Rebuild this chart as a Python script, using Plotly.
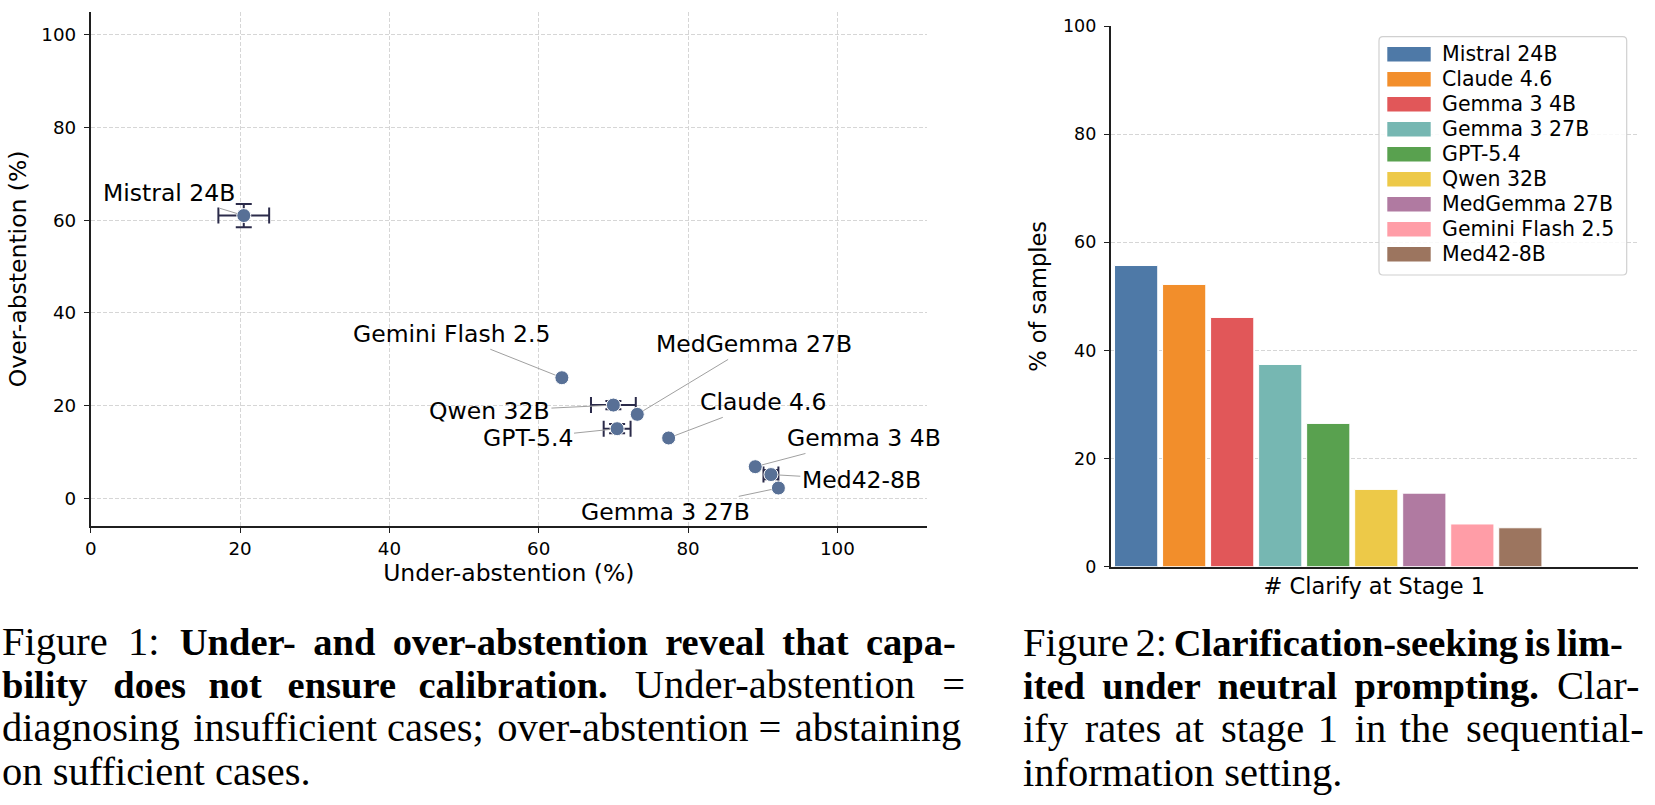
import plotly.graph_objects as go

W, H = 1655, 805

# ---------------- Figure 1 data ----------------
scatter_models = ["Mistral 24B", "Gemini Flash 2.5", "Qwen 32B", "MedGemma 27B", "GPT-5.4",
                  "Claude 4.6", "Gemma 3 4B", "Med42-8B", "Gemma 3 27B"]
under_abstention = [20.5, 63.1, 70.0, 73.2, 70.5, 77.4, 89.0, 91.1, 92.1]
over_abstention = [61.0, 26.0, 20.1, 18.1, 15.0, 13.0, 6.8, 5.1, 2.2]
under_err = [3.4, 0, 3.0, 0, 1.8, 0, 0, 1.0, 0]
over_err = [2.5, 0, 0.9, 0, 1.0, 0, 0, 1.0, 0]

# ---------------- Figure 2 data ----------------
bar_models = ["Mistral 24B", "Claude 4.6", "Gemma 3 4B", "Gemma 3 27B", "GPT-5.4",
              "Qwen 32B", "MedGemma 27B", "Gemini Flash 2.5", "Med42-8B"]
clarify_pct = [55.7, 52.2, 46.1, 37.4, 26.5, 14.3, 13.6, 7.9, 7.2]

tick_vals = [0, 20, 40, 60, 80, 100]

# ---------------- styling / layout (not data) ----------------
bar_colors = ["#4e79a7", "#f28e2b", "#e15759", "#76b7b2", "#59a14f",
              "#edc948", "#b07aa1", "#ff9da7", "#9c755f"]
label_pos = {  # annotation text centers in data coords
    "Mistral 24B": (10.5, 65.9),
    "Gemini Flash 2.5": (48.3, 35.5),
    "Qwen 32B": (53.4, 18.8),
    "MedGemma 27B": (88.8, 33.3),
    "GPT-5.4": (58.5, 13.0),
    "Claude 4.6": (90.1, 20.8),
    "Gemma 3 4B": (103.6, 13.0),
    "Med42-8B": (103.2, 4.0),
    "Gemma 3 27B": (76.95, -2.95),
}

FS_REG = 40.5
FS_BOLD = 38.5
SP = " "            # normal space
THIN = "\u2009"     # thin space
FOUR = "\u2005"     # four-per-em space
THREE = "\u2004"    # three-per-em space
SIX = "\u2006"      # six-per-em space
HAIR = "\u200a"     # hair space


def bold(s):
    return f'<span style="font-size:{FS_BOLD}px"><b>{s}</b></span>'


G2 = SP + THREE + HAIR
G3 = SP + THREE
caption1 = [
    "Figure" + SP + FOUR + "1:" + SP + FOUR
    + bold((SP + THIN).join(["Under-", "and", "over-abstention", "reveal", "that", "capa-"])),
    bold("bility" + G2 + "does" + G3 + "not" + G2 + "ensure" + G3 + "calibration.")
    + G2 + "Under-abstention" + G2 + "=",
    "diagnosing" + SP + HAIR + "insufficient" + SP + "cases;" + SP + HAIR + "over-abstention"
    + SP + "=" + SP + HAIR + "abstaining",
    "on sufficient cases.",
]
caption2 = [
    "Figure" + SIX + "2:" + SIX + bold("Clarification-seeking" + SIX + "is" + SIX + "lim-"),
    bold((SP + THIN).join(["ited", "under", "neutral", "prompting."])) + SP + THIN + "Clar-",
    "ify" + SP + SIX + "rates" + SP + HAIR + "at" + SP + SIX + "stage" + SP + HAIR + "1"
    + SP + SIX + "in" + SP + HAIR + "the" + SP + SIX + "sequential-",
    "information setting.",
]

SANS = "DejaVu Sans"
SERIF = "Liberation Serif"
AXIS_COL = "#1f1f1f"
GRID_COL = "#d6d6d6"
MARK_COL = "#587096"
ERR_COL = "#2b2b4a"


def px(x):
    return x / W


def py(y):
    return 1 - y / H


fig = go.Figure()

# error bars (only for models with non-zero errors)
idx = [i for i in range(len(scatter_models)) if under_err[i] > 0 or over_err[i] > 0]
fig.add_trace(go.Scatter(
    x=[under_abstention[i] for i in idx], y=[over_abstention[i] for i in idx],
    mode="markers", marker=dict(size=12, color=MARK_COL, opacity=0),
    error_x=dict(type="data", array=[under_err[i] for i in idx], color=ERR_COL, thickness=2, width=8),
    error_y=dict(type="data", array=[over_err[i] for i in idx], color=ERR_COL, thickness=2, width=8),
    showlegend=False, hoverinfo="skip", xaxis="x", yaxis="y"))

fig.add_trace(go.Scatter(
    x=under_abstention, y=over_abstention, text=scatter_models, mode="markers",
    marker=dict(size=14, color=MARK_COL, line=dict(color="white", width=1)),
    showlegend=False, xaxis="x", yaxis="y"))

fig.add_trace(go.Bar(
    x=bar_models, y=clarify_pct, width=0.9,
    marker=dict(color=bar_colors, line=dict(color="white", width=1)),
    showlegend=False, xaxis="x2", yaxis="y2"))

annotations = []
for m, ux, oy in zip(scatter_models, under_abstention, over_abstention):
    lx, ly = label_pos[m]
    annotations.append(dict(
        x=ux, y=oy, xref="x", yref="y", ax=lx, ay=ly, axref="x", ayref="y",
        text=m, showarrow=True, arrowhead=0, arrowwidth=1, arrowcolor="#a0a0a0",
        standoff=7, font=dict(family=SANS, size=23.5, color="black")))

# manual legend for Figure 2
leg_l, leg_r, leg_t, leg_b = 1379, 1626.7, 36.7, 275
r = 4
shapes = [dict(
    type="path", xref="paper", yref="paper",
    path=(f"M {px(leg_l + r)},{py(leg_t)} L {px(leg_r - r)},{py(leg_t)} "
          f"Q {px(leg_r)},{py(leg_t)} {px(leg_r)},{py(leg_t + r)} "
          f"L {px(leg_r)},{py(leg_b - r)} Q {px(leg_r)},{py(leg_b)} {px(leg_r - r)},{py(leg_b)} "
          f"L {px(leg_l + r)},{py(leg_b)} Q {px(leg_l)},{py(leg_b)} {px(leg_l)},{py(leg_b - r)} "
          f"L {px(leg_l)},{py(leg_t + r)} Q {px(leg_l)},{py(leg_t)} {px(leg_l + r)},{py(leg_t)} Z"),
    fillcolor="rgba(255,255,255,0.85)", line=dict(color="#d0d0d0", width=1.2), layer="above")]
for k, (m, c) in enumerate(zip(bar_models, bar_colors)):
    cy = 54.3 + 25 * k
    shapes.append(dict(type="rect", xref="paper", yref="paper",
                       x0=px(1387.3), x1=px(1430.7), y0=py(cy + 7.2), y1=py(cy - 7.2),
                       fillcolor=c, line=dict(width=0), layer="above"))
    annotations.append(dict(x=px(1440), y=py(cy), xref="paper", yref="paper",
                            xanchor="left", yanchor="middle", showarrow=False, text=m,
                            font=dict(family=SANS, size=20.5, color="black")))

# captions
baselines = [655.0, 698.3, 741.6, 784.9]
for k, line in enumerate(caption1):
    annotations.append(dict(x=px(0), y=py(baselines[k] - 0.3375 * FS_REG), xref="paper", yref="paper",
                            xanchor="left", yanchor="middle", showarrow=False, text=line,
                            font=dict(family=SERIF, size=FS_REG, color="black")))
for k, line in enumerate(caption2):
    annotations.append(dict(x=px(1021), y=py(baselines[k] + 0.8 - 0.3375 * FS_REG), xref="paper",
                            yref="paper", xanchor="left", yanchor="middle", showarrow=False, text=line,
                            font=dict(family=SERIF, size=FS_REG, color="black")))

common_axis = dict(showline=True, linecolor=AXIS_COL, linewidth=1.6, mirror=False,
                   ticks="outside", ticklen=5, tickwidth=1.3, tickcolor=AXIS_COL,
                   zeroline=False, automargin=False,
                   tickfont=dict(family=SANS, size=18.3, color="black"))

fig.update_layout(
    width=W, height=H, margin=dict(l=0, r=0, t=0, b=0, autoexpand=False),
    paper_bgcolor="white", plot_bgcolor="white",
    font=dict(family=SANS, color="black"),
    showlegend=False,
    xaxis=dict(domain=[px(90.7), px(927)], range=[0, 112], tickvals=tick_vals,
               showgrid=True, gridcolor=GRID_COL, gridwidth=0.9, griddash="4px,2px",
               title=dict(text="Under-abstention (%)", font=dict(family=SANS, size=23.5), standoff=7),
               anchor="y", **common_axis),
    yaxis=dict(domain=[py(526), py(11.7)], range=[-6, 105], tickvals=tick_vals,
               showgrid=True, gridcolor=GRID_COL, gridwidth=0.9, griddash="4px,2px",
               title=dict(text="Over-abstention (%)", font=dict(family=SANS, size=23.5), standoff=8),
               ticklabelstandoff=4, anchor="x", **common_axis),
    xaxis2=dict(domain=[px(1110.7), px(1638)], range=[-0.53, 10.45], showticklabels=False,
                showgrid=False, showline=True, linecolor=AXIS_COL, linewidth=1.6, ticks="",
                zeroline=False, anchor="y2", automargin=False,
                title=dict(text="# Clarify at Stage 1", font=dict(family=SANS, size=22.5), standoff=11)),
    yaxis2=dict(domain=[py(566.7), py(26)], range=[0, 100], tickvals=tick_vals,
                showgrid=True, gridcolor=GRID_COL, gridwidth=0.9, griddash="4px,2px",
                title=dict(text="% of samples", font=dict(family=SANS, size=22.5), standoff=10),
                ticklabelstandoff=4, anchor="x2",
                **{**common_axis, "tickfont": dict(family=SANS, size=17.5, color="black")}),
    annotations=annotations,
    shapes=shapes,
)

fig.write_html("out.html")
